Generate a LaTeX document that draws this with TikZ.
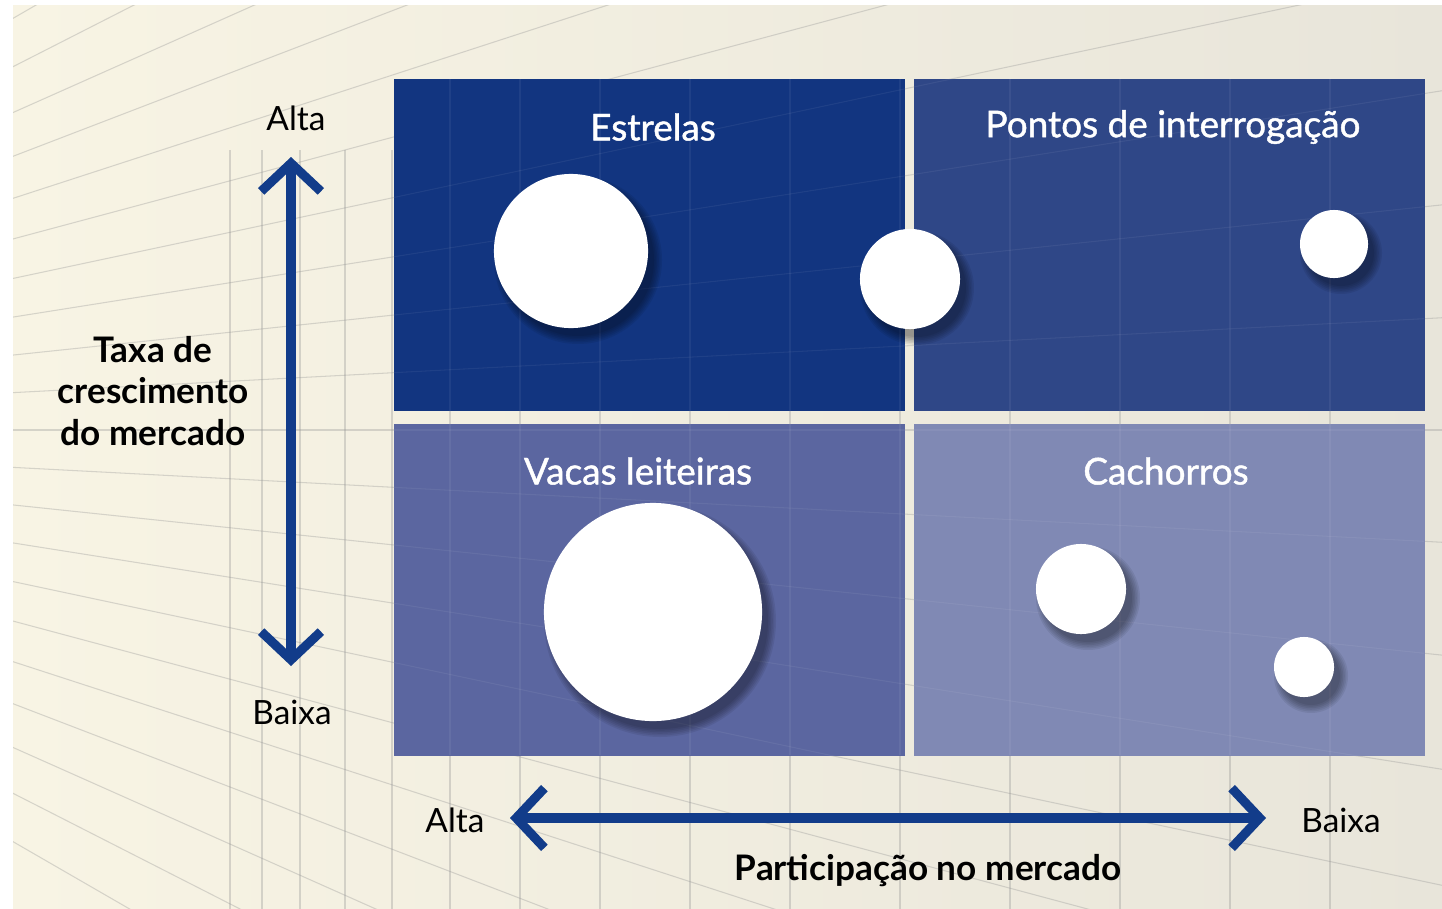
\documentclass[tikz,border=0pt]{standalone}
\usepackage{fontspec}
\setmainfont{Lato}
\newfontfamily\labelfont{Lato}[UprightFeatures={FakeBold=1.2}]
\usetikzlibrary{arrows.meta}
\definecolor{creamlight}{RGB}{248,244,228}
\definecolor{creamdark}{RGB}{232,229,218}
\definecolor{gridgray}{RGB}{150,150,150}
\definecolor{stars}{RGB}{18,53,128}
\definecolor{question}{RGB}{47,71,135}
\definecolor{cows}{RGB}{91,102,160}
\definecolor{dogs}{RGB}{128,137,180}
\definecolor{axisblue}{RGB}{18,60,138}

\begin{document}
\begin{tikzpicture}[x=0.01cm,y=-0.01cm,
  quad/.style={anchor=north west,inner sep=0pt,minimum width=5.11cm,minimum height=3.32cm},
  qlabel/.style={text=white,font=\labelfont\fontsize{10.5}{12}\selectfont},
  axlabel/.style={font=\fontsize{9.5}{11}\selectfont},
  axtitle/.style={font=\bfseries\fontsize{10}{11.7}\selectfont,align=center},
  axis/.style={draw=axisblue,line width=2.6pt,
    {Straight Barb[length=8pt,width=17pt]}-{Straight Barb[length=8pt,width=17pt]}},
  gridline/.style={draw=gridgray,line width=0.3pt,opacity=0.35},
  ball/.style={circle,fill=white,inner sep=0pt}]
\useasboundingbox (0,0) rectangle (1442,909);
\fill[white] (0,0) rectangle (1442,909);
\shade[left color=creamlight,right color=creamdark] (13,5) rectangle (1442,909);

% background room lines
\begin{scope}
\clip (13,5) rectangle (1442,909);
\coordinate (vp) at (-700,430);
\foreach \a in {-30,-27,...,30}
  \draw[gridline] (vp) -- ++(\a:2600);
\foreach \x in {230,262,300,345,392,450,520,600,690,790,900,1010,1120,1230,1330}
  \draw[gridline] (\x,150) -- (\x,909);
\end{scope}

% quadrants
\node[quad,fill=stars] (qstars) at (393,78) {};
\node[quad,fill=question] (qquestion) at (913,78) {};
\node[quad,fill=cows] (qcows) at (393,423) {};
\node[quad,fill=dogs] (qdogs) at (913,423) {};

\begin{scope}
\clip (393,78) rectangle (1424,755);
\foreach \x in {450,520,600,690,790,900,1010,1120,1230,1330}
  \draw[draw=white,line width=0.3pt,opacity=0.06] (\x,78) -- (\x,755);
\foreach \a in {-12,-9,...,12}
  \draw[draw=white,line width=0.3pt,opacity=0.06] (vp) -- ++(\a:2600);
\end{scope}

\node[qlabel] (lstars) at (653,127) {Estrelas};
\node[qlabel] (lquestion) at (1173,127) {Pontos de interrogação};
\node[qlabel] (lcows) at (638,471) {Vacas leiteiras};
\node[qlabel] (ldogs) at (1166,471) {Cachorros};

% products
\foreach \cx/\cy/\r/\n in {571/251/77/pstar, 910/279/50/pmid, 1334/244/34/pquest,
    653/612/109/pcow, 1081/589/45/pdogA, 1304/667/30/pdogB} {
  \foreach \k in {0,...,5}
    \fill[black,opacity=0.07] (\cx+7,\cy+9) circle[radius=\r+7-\k*1.6];
  \node[ball,minimum size={0.02cm*\r}] (\n) at (\cx,\cy) {};
}

% axes
\node[axlabel] (vhigh) at (296,118) {Alta};
\node[axlabel] (vlow) at (292,712) {Baixa};
\node[axtitle] (vtitle) at (153,391) {Taxa de\\crescimento\\do mercado};
\coordinate (vtop) at (291,157);
\coordinate (vbot) at (291,666);
\draw[axis] (vtop) -- (vbot);

\node[axlabel] (hhigh) at (455,820) {Alta};
\node[axlabel] (hlow) at (1341,820) {Baixa};
\node[axtitle] (htitle) at (928,871) {Participação no mercado};
\coordinate (hleft) at (510,818);
\coordinate (hright) at (1266,818);
\draw[axis] (hleft) -- (hright);
\end{tikzpicture}
\end{document}
